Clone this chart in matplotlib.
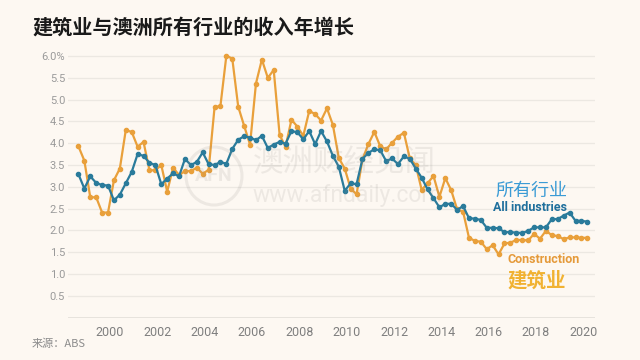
import matplotlib
matplotlib.use("Agg")
import matplotlib.pyplot as plt
import numpy as np
import pandas as pd

plt.rcParams['font.family'] = ['Roboto', 'Noto Sans CJK SC', 'DejaVu Sans']

# Quarterly observations, Sep 1998 .. Mar 2020
quarters = pd.period_range('1998Q3', '2020Q1', freq='Q')

construction = [3.93, 3.60, 2.76, 2.76, 2.41, 2.41, 3.15, 3.42, 4.30, 4.26,
                3.92, 4.03, 3.38, 3.38, 3.50, 2.89, 3.44, 3.27, 3.36, 3.36,
                3.44, 3.30, 3.39, 4.82, 4.86, 6.01, 5.94, 4.84, 4.40, 3.97,
                5.37, 5.92, 5.50, 5.68, 4.19, 3.92, 4.54, 4.38, 4.17, 4.74,
                4.67, 4.52, 4.80, 4.42, 3.66, 3.42, 2.96, 2.83, 3.63, 3.98,
                4.26, 3.93, 3.86, 4.01, 4.15, 4.24, 3.65, 3.50, 2.93, 3.08,
                3.25, 2.77, 3.20, 2.92, 2.48, 2.43, 1.83, 1.76, 1.74, 1.57,
                1.66, 1.45, 1.70, 1.72, 1.78, 1.78, 1.77, 1.92, 1.81, 1.99,
                1.89, 1.87, 1.80, 1.84, 1.84, 1.83, 1.83]

all_industries = [3.29, 2.96, 3.24, 3.09, 3.04, 3.03, 2.69, 2.82, 3.08, 3.34,
                  3.75, 3.71, 3.55, 3.50, 3.06, 3.19, 3.31, 3.24, 3.64, 3.50,
                  3.57, 3.79, 3.52, 3.50, 3.57, 3.53, 3.87, 4.08, 4.16, 4.13,
                  4.07, 4.17, 3.89, 3.97, 4.03, 3.99, 4.28, 4.25, 4.09, 4.28,
                  3.98, 4.28, 4.04, 3.71, 3.46, 2.91, 3.08, 3.06, 3.64, 3.78,
                  3.86, 3.84, 3.59, 3.65, 3.52, 3.70, 3.64, 3.42, 3.21, 2.94,
                  2.74, 2.53, 2.61, 2.61, 2.47, 2.56, 2.28, 2.27, 2.24, 2.06,
                  2.06, 2.05, 1.96, 1.96, 1.95, 1.94, 1.99, 2.07, 2.07, 2.07,
                  2.26, 2.26, 2.34, 2.41, 2.22, 2.22, 2.20]

y_ticks = [0.5, 1.0, 1.5, 2.0, 2.5, 3.0, 3.5, 4.0, 4.5, 5.0, 5.5, 6.0]
y_labels = ['0.5', '1.0', '1.5', '2.0', '2.5', '3.0', '3.5', '4.0', '4.5', '5.0', '5.5', '6.0%']
x_ticks = [2000, 2002, 2004, 2006, 2008, 2010, 2012, 2014, 2016, 2018, 2020]

# decimal year at start of the quarter's last month
t = np.array([q.year + (q.end_time.month - 1) / 12 for q in quarters])

BG = '#FDF8F2'
ORANGE = '#E9A03B'
BLUE = '#2A7B9B'
WM = '#8F8A85'
WA = 0.14

fig = plt.figure(figsize=(6.4, 3.6), dpi=100, facecolor=BG)
ax = fig.add_axes([68/640, 1 - 317.6/360, (595-68)/640, (317.6-49.5)/360])
ax.set_facecolor(BG)

# faint semi-transparent watermark on top
fig.patches.append(matplotlib.patches.Ellipse((214/640, 1-176/360), 56/640, 58/360,
                   transform=fig.transFigure, fill=False, edgecolor=WM, alpha=WA,
                   linewidth=2.2, zorder=5))
fig.text(214/640, 1-176/360, 'AFN', fontsize=14, color=WM, alpha=WA, ha='center', va='center',
         fontweight='bold', zorder=5)
fig.text(253/640, 1-163/360, '澳洲财经见闻', fontsize=22, color=WM, alpha=WA, ha='left', va='center',
         family=['Noto Sans CJK SC'], zorder=5)
fig.text(253/640, 1-196/360, 'www.afndaily.com', fontsize=16.5, color=WM, alpha=WA, ha='left',
         va='center', zorder=5)

ax.set_xlim(1998.226, 2020.49)
ax.set_ylim(0, 6.15)

for s in ax.spines.values():
    s.set_visible(False)
for yv in y_ticks:
    ax.axhline(yv, color='#ECE8E2', lw=0.9, zorder=1)
ax.axhline(0, color='#E3DFD9', lw=1.2, zorder=1)

ax.plot(t, construction, color=ORANGE, lw=1.6, marker='o', ms=3, zorder=3)
ax.plot(t, all_industries, color=BLUE, lw=1.6, marker='o', ms=3, zorder=4)

ax.set_yticks(y_ticks)
ax.set_yticklabels(y_labels)
ax.set_xticks(x_ticks)
ax.set_xticklabels([str(x) for x in x_ticks])
ax.tick_params(axis='y', length=0, pad=2, labelsize=8, labelcolor='#9A9A9A')
ax.tick_params(axis='x', length=0, pad=6, labelsize=9, labelcolor='#7F7F7F')

fig.text(32/640, 1-27/360, '建筑业与澳洲所有行业的收入年增长', fontsize=14.5, fontweight='bold',
         color='#1A1A1A', ha='left', va='center', family=['Noto Sans CJK SC'])
fig.text(32/640, 1-344/360, '来源：ABS', fontsize=8, color='#8C8C8C', ha='left', va='center',
         family=['Noto Sans CJK SC'])

fig.text(495/640, 1-191/360, '所有行业', fontsize=13, color='#3A9BD5', ha='left', va='center',
         family=['Noto Sans CJK SC'], fontweight='medium')
fig.text(493/640, 1-208/360, 'All industries', fontsize=9, color='#1F6F9C', ha='left', va='center',
         fontweight='bold')
fig.text(508/640, 1-259.5/360, 'Construction', fontsize=9, color='#E59A3A', ha='left', va='center',
         fontweight='bold')
fig.text(508/640, 1-281/360, '建筑业', fontsize=14, color='#F1B232', ha='left', va='center',
         family=['Noto Sans CJK SC'], fontweight='bold')

fig.savefig('out.png', dpi=100, facecolor=BG)
